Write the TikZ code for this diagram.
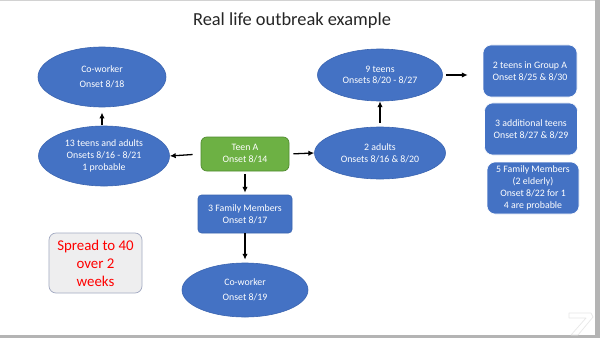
\documentclass[tikz,border=0pt]{standalone}
\usepackage{fontspec}
\setmainfont{Carlito}
\usepackage{xcolor}
\usepackage{tikz}
\usetikzlibrary{arrows.meta,shapes.geometric}
\definecolor{obBlue}{HTML}{4472C4}
\definecolor{obBlueLine}{HTML}{3A64B0}
\definecolor{obGreen}{HTML}{6DB144}
\definecolor{obGreenLine}{HTML}{4F8A2E}
\definecolor{obPale}{HTML}{EEEEEF}
\definecolor{obPaleLine}{HTML}{A3AAC2}
\definecolor{obFrame}{HTML}{B4B4B4}
\definecolor{obTitle}{HTML}{262626}

\begin{document}
\begin{tikzpicture}[x=0.03cm,y=-0.03cm,>=Latex]
  \tikzset{
    oval/.style={ellipse,draw=obBlueLine,line width=.5pt,fill=obBlue,text=white,inner sep=0pt,align=center,font=\fontsize{8.4}{10.2}\selectfont},
    card/.style={draw=obBlueLine,line width=.5pt,fill=obBlue,text=white,inner sep=0pt,align=center,font=\fontsize{8.4}{10.2}\selectfont},
    flow/.style={draw=black,line width=1.1pt,-{Latex[length=5pt,width=4.6pt]}}
  }
  \useasboundingbox (0,0) rectangle (600,338);
  % slide frame
  \fill[white] (0,0) rectangle (600,338);
  \draw[obFrame!60,line width=.8pt] (0,.5) -- (595,.5);
  \fill[obFrame] (595,0) rectangle (600,338);
  \fill[obFrame] (0,335) rectangle (600,338);
  \draw[gray!18,line width=.6pt,line join=round] (569,313) -- (591,313) -- (593,317) -- (578,335) -- (571,335) -- (586,318) -- (569,318) -- cycle;
  \node[font=\fontsize{15.7}{18}\selectfont,text=obTitle] (title) at (292,21) {Real life outbreak example};
  % left side
  \node[oval,minimum width=3.84cm,minimum height=1.8cm] (cwTop) at (102,77) {Co-worker\\[2.6pt]Onset 8/18};
  \node[oval,minimum width=3.93cm,minimum height=1.8cm] (teens13) at (104,156) {13 teens and adults\\Onsets 8/16 - 8/21\\1 probable};
  \node[draw=obGreenLine,line width=.6pt,fill=obGreen,text=white,rounded corners=5pt,minimum width=2.64cm,minimum height=1.02cm,inner sep=0pt,align=center,font=\fontsize{8.4}{10.2}\selectfont] (teenA) at (245,154) {Teen A\\Onset 8/14};
  \node[card,rounded corners=3pt,minimum width=2.82cm,minimum height=1.14cm] (fam3) at (245,214) {3 Family Members\\Onset 8/17};
  \node[oval,minimum width=3.78cm,minimum height=1.62cm] (cwLow) at (245,290) {Co-worker\\[2.6pt]Onset 8/19};
  \node[draw=obPaleLine,line width=.6pt,fill=obPale,text=red,rounded corners=6pt,minimum width=2.79cm,minimum height=1.8cm,inner sep=0pt,align=center,font=\fontsize{12.7}{15.4}\selectfont] (spread) at (95.5,263) {Spread to 40\\over 2\\weeks};
  % right side
  \node[oval,minimum width=3.93cm,minimum height=1.56cm] (adults2) at (380,153) {2 adults\\Onsets 8/16 \& 8/20};
  \node[oval,minimum width=3.75cm,minimum height=1.56cm] (teens9) at (380,75) {9 teens\\Onsets 8/20 - 8/27};
  \node[card,draw=white,rounded corners=7pt,minimum width=2.82cm,minimum height=1.56cm] (groupA) at (530,71) {2 teens in Group A\\Onset 8/25 \& 8/30};
  \node[card,draw=white,rounded corners=7pt,minimum width=2.79cm,minimum height=1.56cm] (teens3) at (531,129) {3 additional teens\\Onset 8/27 \& 8/29};
  \node[card,draw=white,rounded corners=7pt,minimum width=2.76cm,minimum height=1.56cm] (fam5) at (533,188) {5 Family Members\\(2 elderly)\\Onset 8/22 for 1\\4 are probable};
  % spread
  \draw[flow,shorten <=6.8pt] (teenA.west) -- (teens13.east);
  \draw[flow,shorten <=3.4pt] (teenA.east) -- (adults2.west);
  \draw[flow,shorten <=2.6pt,shorten >=1.7pt] (teenA.south) -- (fam3.north);
  \draw[flow,shorten >=2.6pt] (fam3.south) -- (cwLow.north);
  \draw[flow,shorten <=1pt,shorten >=4.5pt] (teens13.north -| cwTop.south) -- (cwTop.south);
  \draw[flow,shorten <=3.4pt] (adults2.north) -- (teens9.south);
  \draw[flow,shorten <=2.6pt,shorten >=12.8pt] (teens9.east) -- (groupA.west |- teens9.east);
\end{tikzpicture}
\end{document}
